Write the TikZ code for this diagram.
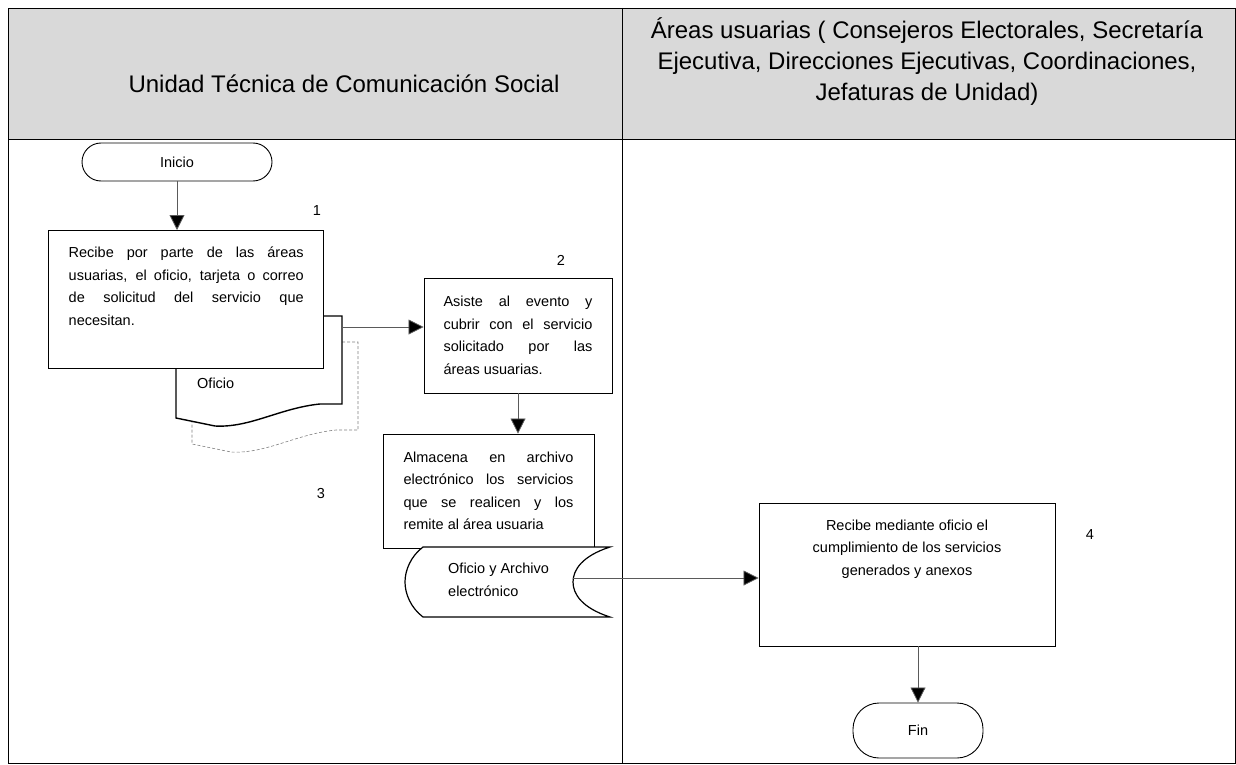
\documentclass[tikz,border=0pt]{standalone}
\usepackage{fontspec}
\setmainfont{Liberation Sans}
\usepackage{tikz}
\usetikzlibrary{arrows.meta, positioning, calc}
\definecolor{cabgris}{RGB}{217,217,217}
\definecolor{lineagris}{RGB}{90,90,90}
\hyphenpenalty=10000
\exhyphenpenalty=10000

\tikzset{
	proc/.style={draw=black, fill=white, line width=0.9pt, inner sep=0pt},
	texto/.style={inner sep=0pt, font=\fontsize{14.5}{22.5}\selectfont},
	term/.style={draw=black, fill=white, line width=0.9pt, font=\fontsize{14.5}{17}\selectfont},
	flecha/.style={draw=lineagris, line width=0.8pt, -{Triangle[length=15pt,width=15pt,fill=black]}},
	numero/.style={font=\fontsize{14.5}{17}\selectfont}
}

\begin{document}
\begin{tikzpicture}[x=1pt,y=-1pt]
						\useasboundingbox (0,0) rectangle (1236,765);
						% encabezado
						\draw[fill=cabgris] (8,8) rectangle (1235.5,139);
						\draw (8,139) rectangle (1235.5,763);
						\draw (622,8)--(622,763);
						\node[font=\fontsize{24}{31}\selectfont] (carril1) at (344,84) {Unidad Técnica de Comunicación Social};
						\node[font=\fontsize{24}{31}\selectfont, align=center] (carril2) at (927,62) {Áreas usuarias ( Consejeros Electorales, Secretaría\\Ejecutiva, Direcciones Ejecutivas, Coordinaciones,\\Jefaturas de Unidad)};
						% inicio
						\node[term, rounded corners=19pt, minimum width=190pt, minimum height=38pt] (inicio) at (177,162) {Inicio};
						% documento oficio con sombra
						\draw[densely dashed, gray, line width=0.6pt] (192,342)--(358,342)--(358,430)--(336,430) .. controls (296,434) and (266,454) .. (231,452)--(192,444)--cycle;
						\draw[fill=white, line width=1.4pt] (176,316)--(342,316)--(342,404)--(320,404) .. controls (280,408) and (250,428) .. (215,426)--(176,418)--cycle;
						\node[texto, anchor=west] (oficio) at (197,383) {Oficio};
						\coordinate (docE) at (342,327);
						% paso 1
						\node[proc, line width=1.4pt, minimum width=275pt, minimum height=138pt, anchor=north west] (recibe) at (48,230) {};
						\node[texto, text width=235pt, align=justify, anchor=north] (recibetxt) at ([yshift=-17pt]recibe.north) {Recibe por parte de las áreas\linebreak usuarias, el oficio, tarjeta o correo\linebreak de solicitud del servicio que\linebreak necesitan.};
						\node[numero] (n1) at (317,211) {1};
						% paso 2
						\node[proc, texto, minimum width=188pt, minimum height=115pt, text width=149pt, align=justify, inner xsep=19.5pt] (asiste) at (518,335.5) {Asiste al evento y\linebreak cubrir con el servicio\linebreak solicitado por las\linebreak áreas usuarias.};
						\node[numero] (n2) at (561,260) {2};
						% paso 3
						\node[proc, texto, minimum width=211pt, minimum height=114pt, text width=170pt, align=justify, inner xsep=20.5pt] (almacena) at (488.5,491) {Almacena en archivo\linebreak electrónico los servicios\linebreak que se realicen y los\linebreak remite al área usuaria};
						\node[numero] (n3) at (321,494) {3};
						% almacenamiento
						\draw[fill=white, line width=1.2pt] (423,547)--(610,547) .. controls (582,556) and (573,570) .. (573,582) .. controls (573,594) and (582,608) .. (610,617)--(423,617) .. controls (411,608) and (405,594) .. (405,582) .. controls (405,570) and (411,556) .. (423,547)--cycle;
						\node[texto, align=left, anchor=west] (archivo) at (448,580) {Oficio y Archivo\\electrónico};
						\coordinate (almE) at (573,578);
						% paso 4
						\node[proc, minimum width=296pt, minimum height=143pt] (cumple) at (907,574.5) {};
						\node[texto, align=center, anchor=north] (cumpletxt) at ([yshift=-17pt]cumple.north) {Recibe mediante oficio el\\cumplimiento de los servicios\\generados y anexos};
						\node[numero] (n4) at (1090,535) {4};
						% fin
						\node[term, rounded corners=26pt, minimum width=130pt, minimum height=55pt] (fin) at (918,730.5) {Fin};
						% conectores
						\draw[flecha] (inicio.south)--(inicio.south |- recibe.north);
						\draw[flecha] (docE)--(docE -| asiste.west);
						\draw[flecha] (asiste.south)--(asiste.south |- almacena.north);
						\draw[flecha] (almE)--(almE -| cumple.west);
						\draw[flecha] (fin.north |- cumple.south)--(fin.north);
					\end{tikzpicture}
\end{document}
